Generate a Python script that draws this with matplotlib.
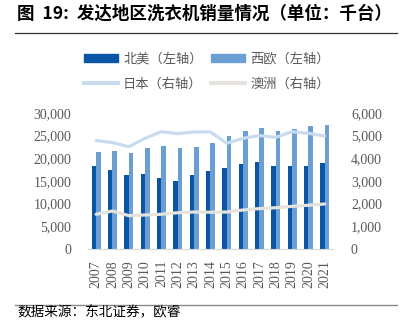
import numpy as np
import matplotlib.pyplot as plt
from matplotlib.lines import Line2D
from matplotlib.patches import Patch

years = [str(y) for y in range(2007, 2022)]
north_america = [18400, 17350, 16400, 16600, 15650, 15000, 16300, 17150,
                 17900, 18800, 19250, 18400, 18300, 18400, 19050]
europe = [21450, 21700, 21250, 22150, 22700, 22300, 22450, 23300,
          24850, 25900, 26700, 26100, 26400, 27000, 27400]
japan = [4780, 4690, 4510, 4880, 5170, 5085, 5160, 5160,
         4660, 4880, 5000, 4925, 5170, 5100, 4980]
australia = [1530, 1675, 1470, 1500, 1530, 1600, 1630, 1620,
             1630, 1720, 1780, 1820, 1880, 1930, 1985]

c_na = '#0a56a6'
c_eu = '#6b9fd3'
c_jp = '#c9dcef'
c_au = '#e5e3dc'
gray = '#595959'

cjk = ['Noto Sans CJK SC', 'DejaVu Sans']
serif = 'Liberation Serif'

fig = plt.figure(figsize=(4.09, 3.32), dpi=100)
ax = fig.add_axes([0.215, 0.25, 0.599, 0.41])
ax2 = ax.twinx()

x = np.arange(len(years))
w = 0.28
ax.bar(x - w / 2, north_america, width=w, color=c_na, zorder=2)
ax.bar(x + w / 2, europe, width=w, color=c_eu, zorder=2)
ax2.plot(x, japan, color=c_jp, lw=2.3, solid_capstyle='round')
ax2.plot(x, australia, color=c_au, lw=2.3, solid_capstyle='round')

ax.set_xlim(-0.5, len(years) - 0.5)
ax.set_ylim(0, 30000)
ax2.set_ylim(0, 6000)
ax.set_yticks(range(0, 30001, 5000))
ax2.set_yticks(range(0, 6001, 1000))
ax.set_yticklabels([f'{v:,}' for v in range(0, 30001, 5000)])
ax2.set_yticklabels([f'{v:,}' for v in range(0, 6001, 1000)])
ax.set_xticks(x)
ax.set_xticklabels(years, rotation=90)

for a in (ax, ax2):
    for s in a.spines.values():
        s.set_visible(False)
    a.tick_params(length=0, labelsize=10, labelcolor=gray)
    for lab in a.get_xticklabels() + a.get_yticklabels():
        lab.set_fontfamily(serif)
ax.spines['bottom'].set_visible(True)
ax.spines['bottom'].set_color('#d9d9d9')
ax.tick_params(axis='y', pad=12)
ax.tick_params(axis='x', pad=8)
ax2.tick_params(axis='y', pad=13)

# legend fills column-wise, so order as 北美, 日本, 西欧, 澳洲
handles = [Patch(color=c_na), Line2D([], [], color=c_jp, lw=3),
           Patch(color=c_eu), Line2D([], [], color=c_au, lw=3)]
labels = ['北美（左轴）', '日本（右轴）', '西欧（左轴）', '澳洲（右轴）']
leg = fig.legend(handles, labels, ncol=2, loc='center', bbox_to_anchor=(0.505, 0.785),
                 frameon=False, handlelength=2.6, handleheight=0.5, columnspacing=0.6,
                 labelspacing=0.9, handletextpad=0.4, prop={'family': cjk, 'size': 9.5})
for t in leg.get_texts():
    t.set_color(gray)

fig.text(0.042, 0.958, '图  19:  发达地区洗衣机销量情况（单位：千台）', fontsize=12.6,
         fontweight='bold', family=cjk, va='center', ha='left')
fig.add_artist(Line2D([0.037, 0.971], [0.901, 0.901], color='#333333', lw=0.9))
fig.add_artist(Line2D([0.037, 0.971], [0.081, 0.081], color='#888888', lw=1.0))
fig.text(0.042, 0.058, '数据来源：东北证券，欧睿', fontsize=9.8, family=cjk,
         va='center', ha='left')

fig.savefig('out.png', dpi=100)
